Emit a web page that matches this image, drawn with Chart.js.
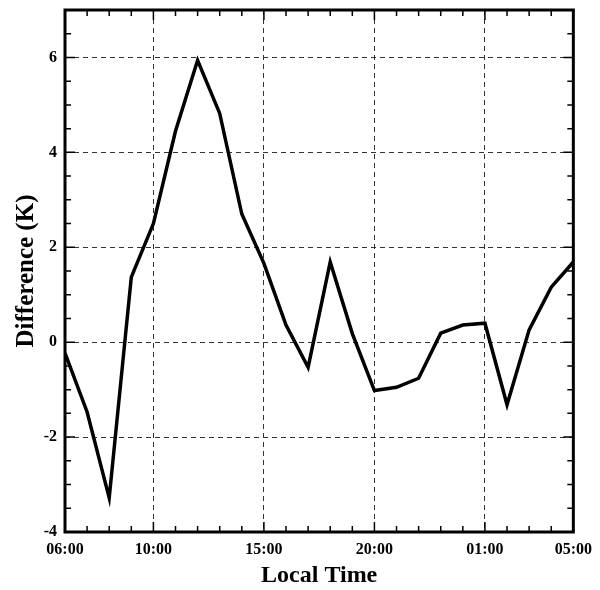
<!DOCTYPE html>
<html>
<head>
<meta charset="utf-8">
<script src="https://cdn.jsdelivr.net/npm/chart.js@4.4.0/dist/chart.umd.min.js"></script>
<style>
  body { margin: 0; background: #fff; }
  #wrap { width: 600px; height: 590px; }
</style>
</head>
<body>
<div id="wrap"><canvas id="mycanvas" width="600" height="590"></canvas></div>
<script>
// hours since 06:00, one value per hour
var hours = [0, 1, 2, 3, 4, 5, 6, 7, 8, 9, 10, 11, 12, 13, 14, 15, 16, 17, 18, 19, 20, 21, 22, 23];
var diff = [-0.23, -1.47, -3.28, 1.37, 2.5, 4.45, 5.94, 4.82, 2.7, 1.66, 0.36, -0.53, 1.69, 0.18,
            -1.02, -0.95, -0.76, 0.19, 0.36, 0.4, -1.32, 0.26, 1.16, 1.69];
var majorHours = [0, 4, 9, 14, 19, 23];
var majorLabels = ['06:00', '10:00', '15:00', '20:00', '01:00', '05:00'];
var yTicks = [-4, -2, 0, 2, 4, 6];

var points = [];
for (var i in hours) {
    points.push({x: hours[i], y: diff[i]});
}

var font = 'Liberation Serif';

// frame and little inward ticks on all four sides
var frame = {
    id: 'frame',
    afterDraw: function(chart) {
        var ctx = chart.ctx;
        var a = chart.chartArea;
        var xs = chart.scales.x, ys = chart.scales.y;
        ctx.save();
        ctx.strokeStyle = '#000';
        ctx.lineWidth = 1.5;
        ctx.beginPath();
        for (var h = 0; h <= 23; h++) {
            var px = xs.getPixelForValue(h);
            var len = majorHours.indexOf(h) >= 0 ? 10 : 6;
            ctx.moveTo(px, a.bottom); ctx.lineTo(px, a.bottom - len);
            ctx.moveTo(px, a.top); ctx.lineTo(px, a.top + len);
        }
        for (var v = -4; v <= 7; v += 0.5) {
            var py = ys.getPixelForValue(v);
            var l2 = (v % 2 === 0) ? 10 : 6;
            ctx.moveTo(a.left, py); ctx.lineTo(a.left + l2, py);
            ctx.moveTo(a.right, py); ctx.lineTo(a.right - l2, py);
        }
        ctx.stroke();
        ctx.lineWidth = 3;
        ctx.strokeRect(a.left, a.top, a.right - a.left, a.bottom - a.top);
        ctx.restore();
    }
};

var ctx = document.getElementById('mycanvas');
var chart = new Chart(ctx, {
    type: 'line',
    data: {
        datasets: [{
            data: points,
            borderColor: '#000',
            borderWidth: 3.5,
            pointRadius: 0,
            tension: 0,
            fill: false
        }]
    },
    options: {
        responsive: false,
        animation: false,
        layout: { padding: { top: 10, right: 25, left: 0, bottom: 0 } },
        plugins: { legend: { display: false }, tooltip: { enabled: false } },
        scales: {
            x: {
                type: 'linear',
                min: 0,
                max: 23,
                afterBuildTicks: function(scale) {
                    scale.ticks = majorHours.map(function(h) { return {value: h}; });
                },
                afterFit: function(scale) { scale.height = 58; },
                ticks: {
                    autoSkip: false,
                    maxRotation: 0,
                    padding: 8,
                    color: '#000',
                    font: { family: font, size: 16, weight: 'bold' },
                    callback: function(v) { return majorLabels[majorHours.indexOf(v)]; }
                },
                grid: {
                    color: '#333',
                    lineWidth: 1,
                    drawTicks: false
                },
                border: { display: false, dash: [5, 4] },
                title: {
                    display: true,
                    text: 'Local Time',
                    color: '#000',
                    padding: { top: 0, bottom: 0 },
                    font: { family: font, size: 24, weight: 'bold' }
                }
            },
            y: {
                min: -4,
                max: 7,
                afterBuildTicks: function(scale) {
                    scale.ticks = yTicks.map(function(v) { return {value: v}; });
                },
                afterFit: function(scale) {
                    scale.width = 65;
                    scale.paddingTop = 0;
                    scale.paddingBottom = 0;
                },
                ticks: {
                    padding: 8,
                    color: '#000',
                    font: { family: font, size: 16, weight: 'bold' }
                },
                grid: {
                    color: '#333',
                    lineWidth: 1,
                    drawTicks: false
                },
                border: { display: false, dash: [5, 4] },
                title: {
                    display: true,
                    text: 'Difference (K)',
                    color: '#000',
                    padding: { top: 12, bottom: 0 },
                    font: { family: font, size: 25, weight: 'bold' }
                }
            }
        }
    },
    plugins: [frame]
});
</script>
</body>
</html>
